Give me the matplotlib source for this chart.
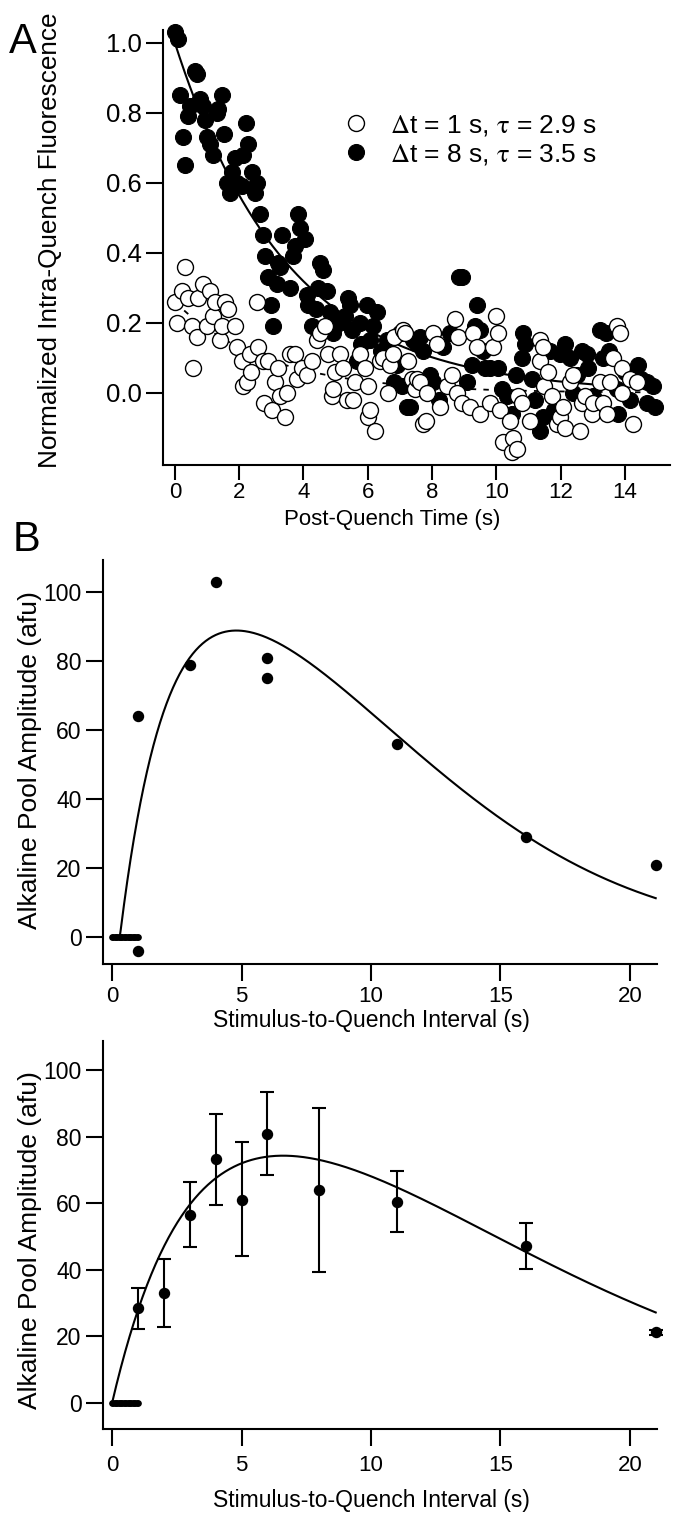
import numpy as np
import matplotlib
matplotlib.use("Agg")
import matplotlib.pyplot as plt

plt.rcParams['font.family'] = ['Liberation Sans', 'DejaVu Sans']
plt.rcParams['mathtext.fontset'] = 'stix'

# ---- panel A: intra-quench fluorescence (t in s, normalized value)
filled_t = [0.0, 0.1, 0.16, 0.25, 0.31, 0.4, 0.47, 0.62, 0.68, 0.78, 0.87, 0.93, 0.99, 1.09, 1.18,
            1.3, 1.34, 1.46, 1.52, 1.62, 1.71, 1.77, 1.87, 1.93, 2.08, 2.12, 2.21, 2.27, 2.4, 2.49,
            2.55, 2.64, 2.74, 2.8, 2.9, 3.0, 3.05, 3.17, 3.2, 3.27, 3.33, 3.58, 3.67, 3.73, 3.83,
            3.89, 4.04, 4.1, 4.14, 4.26, 4.4, 4.45, 4.5, 4.6, 4.72, 4.82, 4.91, 5.1, 5.28, 5.38,
            5.44, 5.5, 5.66, 5.75, 5.8, 5.97, 6.06, 6.16, 6.28, 6.4, 6.6, 6.8, 6.9, 7.0, 7.05,
            7.1, 7.22, 7.3, 7.4, 7.53, 7.62, 7.71, 7.93, 8.03, 8.2, 8.34, 8.55, 8.83, 8.93, 9.08,
            9.24, 9.33, 9.39, 9.49, 9.58, 9.64, 9.8, 10.05, 10.17, 10.33, 10.5, 10.6, 10.8, 10.82,
            10.89, 11.1, 11.2, 11.35, 11.45, 11.66, 11.8, 11.98, 12.13, 12.29, 12.38, 12.5, 12.66,
            12.82, 12.85, 13.0, 13.22, 13.31, 13.4, 13.5, 13.75, 13.78, 14.0, 14.15, 14.4, 14.5,
            14.68, 14.7, 14.87, 14.93]
filled_v = [1.03, 1.01, 0.85, 0.73, 0.65, 0.79, 0.82, 0.92, 0.91, 0.84, 0.82, 0.78, 0.73, 0.71, 0.68,
            0.80, 0.81, 0.85, 0.74, 0.60, 0.57, 0.63, 0.67, 0.60, 0.59, 0.68, 0.77, 0.71, 0.63, 0.57,
            0.60, 0.51, 0.45, 0.39, 0.33, 0.25, 0.19, 0.31, 0.37, 0.36, 0.45, 0.30, 0.39, 0.42, 0.51,
            0.47, 0.44, 0.28, 0.25, 0.19, 0.24, 0.30, 0.37, 0.35, 0.29, 0.23, 0.17, 0.20, 0.22, 0.27,
            0.25, 0.18, 0.09, 0.20, 0.14, 0.25, 0.15, 0.19, 0.23, 0.12, 0.15, 0.03, 0.08, 0.17, 0.02,
            0.17, -0.04, -0.04, 0.15, 0.14, 0.16, 0.12, 0.05, 0.03, -0.02, 0.13, 0.17, 0.33, 0.33, 0.03,
            0.08, 0.19, 0.25, 0.18, 0.12, 0.07, 0.07, 0.07, 0.01, -0.01, -0.06, 0.05, 0.10, 0.17,
            0.14, 0.04, -0.02, -0.11, -0.07, 0.12, -0.05, 0.11, 0.14, 0.10, 0.00, 0.05, 0.12,
            0.11, 0.07, -0.01, 0.18, 0.10, 0.17, 0.12, 0.01, -0.06, 0.06, -0.02, 0.08, 0.04,
            0.03, -0.03, 0.02, -0.04]

open_t = [0.0, 0.06, 0.22, 0.31, 0.4, 0.53, 0.56, 0.68, 0.72, 0.87, 0.99, 1.09, 1.18, 1.24, 1.4,
          1.46, 1.56, 1.65, 1.87, 1.93, 2.08, 2.12, 2.24, 2.33, 2.36, 2.55, 2.58, 2.74, 2.76, 2.89,
          3.02, 3.11, 3.2, 3.27, 3.42, 3.48, 3.58, 3.73, 3.79, 3.95, 4.1, 4.26, 4.42, 4.51, 4.67,
          4.76, 4.88, 4.91, 4.98, 5.13, 5.23, 5.35, 5.54, 5.6, 5.75, 5.91, 6.0, 6.02, 6.07, 6.22,
          6.38, 6.47, 6.63, 6.69, 6.78, 6.8, 7.1, 7.15, 7.25, 7.37, 7.46, 7.53, 7.62, 7.71, 7.8,
          7.84, 8.03, 8.15, 8.24, 8.46, 8.62, 8.7, 8.77, 8.8, 8.93, 9.18, 9.27, 9.39, 9.49, 9.8,
          9.89, 10.0, 10.05, 10.1, 10.2, 10.42, 10.5, 10.51, 10.64, 10.67, 10.8, 11.04, 11.35,
          11.37, 11.45, 11.47, 11.6, 11.72, 11.88, 11.98, 12.07, 12.13, 12.29, 12.38, 12.6, 12.66,
          12.75, 12.97, 13.0, 13.22, 13.31, 13.44, 13.53, 13.62, 13.75, 13.84, 13.9, 13.92, 14.15,
          14.25, 14.37]
open_v = [0.26, 0.20, 0.29, 0.36, 0.27, 0.19, 0.07, 0.16, 0.27, 0.31, 0.19, 0.29, 0.22, 0.26, 0.15,
          0.19, 0.26, 0.24, 0.19, 0.13, 0.09, 0.02, 0.03, 0.11, 0.06, 0.26, 0.13, 0.09, -0.03, 0.09,
          -0.05, 0.03, 0.07, -0.01, -0.07, 0.00, 0.11, 0.11, 0.04, 0.07, 0.05, 0.09, 0.15, 0.17, 0.19,
          0.11, -0.01, 0.01, 0.06, 0.11, 0.07, -0.02, -0.02, 0.03, 0.11, 0.07, 0.02, -0.07, -0.05, -0.11,
          0.09, 0.10, 0.00, 0.08, 0.11, 0.16, 0.18, 0.17, 0.09, 0.04, 0.01, 0.04, 0.03, -0.09, -0.08,
          0.00, 0.17, 0.14, -0.04, 0.02, 0.05, 0.21, 0.00, 0.16, -0.03, -0.04, 0.17, 0.13, -0.06, -0.03,
          0.13, 0.22, 0.17, -0.05, -0.14, -0.08, -0.17, -0.13, -0.16, -0.01, -0.03, -0.08, 0.15,
          0.09, 0.13, 0.02, 0.06, -0.01, -0.09, -0.07, -0.04, -0.10, 0.03, 0.05, -0.11, -0.03,
          -0.01, -0.06, -0.03, 0.03, -0.03, -0.06, 0.03, 0.10, 0.19, 0.17, 0.07, 0.00, 0.04,
          -0.09, 0.03]

# single-exponential fits (amplitude, tau)
fit_open = (0.26, 2.9)
fit_filled = (1.0, 3.5)

# ---- panel B: alkaline pool amplitude vs stimulus-to-quench interval
b1_x = [1, 1, 3, 4, 6, 6, 11, 16, 21]
b1_y = [64, -4, 79, 103, 81, 75, 56, 29, 21]
b1_zero_x = [0.0, 0.05, 0.1, 0.15, 0.2, 0.25, 0.3, 0.35, 0.4, 0.45, 0.5, 0.55, 0.6, 0.65, 0.7,
             0.75, 0.8, 0.85, 0.9, 0.95, 1.0]

b2_x = [1, 2, 3, 4, 5, 6, 8, 11, 16, 21]
b2_y = [28.5, 33.2, 56.6, 73.4, 61.1, 81.0, 64.1, 60.3, 47.3, 21.3]
b2_lo = [6.3, 10.4, 9.6, 13.8, 17.0, 12.6, 24.6, 9.0, 7.1, 0.8]
b2_hi = [6.1, 10.0, 9.7, 13.6, 17.2, 12.6, 24.6, 9.3, 6.9, 0.8]
b2_zero_x = [0.0, 0.05, 0.1, 0.15, 0.2, 0.25, 0.3, 0.35, 0.4, 0.45, 0.5, 0.55, 0.6, 0.65, 0.7,
             0.75, 0.8, 0.85, 0.9, 0.95, 1.0]

# rise/decay fits: A, t0, tau_rise, tau_decay
fit_b1 = (107.0, 0.3, 1.75, 13.8)
fit_b2 = (92.4, 0.0, 2.77, 19.0)


def exp_fit(t, p):
    return p[0] * np.exp(-t / p[1])


def pool_fit(t, p):
    a, t0, tr, td = p
    s = np.clip(t - t0, 0, None)
    return a * (1 - np.exp(-s / tr)) * np.exp(-(s / td) ** 2)


W, H = 673, 1513
fig = plt.figure(figsize=(W / 100, H / 100), dpi=100)


def px_axes(left, top, right, bottom):
    return fig.add_axes([left / W, 1 - bottom / H, (right - left) / W, (bottom - top) / H])


def style(ax, ysize, xsize, xpad=3, ypad=4, xlen=12.5):
    for s in ['top', 'right']:
        ax.spines[s].set_visible(False)
    for s in ['left', 'bottom']:
        ax.spines[s].set_linewidth(1.5)
    ax.tick_params(direction='out', length=12.5, width=1.5)
    ax.tick_params(axis='y', labelsize=ysize, pad=ypad)
    ax.tick_params(axis='x', labelsize=xsize, pad=xpad, length=xlen)


def ptext(x, y, s, size, rot=0):
    fig.text(x / W, 1 - y / H, s, rotation=rot, ha='center', va='center', fontsize=size)


# ---------------- panel A
axA = px_axes(163, 30, 670, 465)
tt = np.linspace(0, 15, 400)
axA.plot(tt, exp_fit(tt, fit_open), color='black', lw=1.3, ls=(0, (3, 4)), zorder=1)
axA.plot(filled_t, filled_v, 'o', ms=11.5, mfc='black', mec='black', mew=0.8, zorder=2,
         clip_on=False, label=r'$\Delta$t = 8 s, $\mathrm{\tau}$ = 3.5 s')
axA.plot(tt, exp_fit(tt, fit_filled), color='black', lw=1.5, zorder=3)
axA.plot(open_t, open_v, 'o', ms=11.5, mfc='white', mec='black', mew=1.0, zorder=4,
         clip_on=False, label=r'$\Delta$t = 1 s, $\mathrm{\tau}$ = 2.9 s')
axA.set_xlim(-0.37, 15.4)
axA.set_ylim(-0.206, 1.037)
axA.set_xticks(range(0, 15, 2))
axA.set_yticks([0.0, 0.2, 0.4, 0.6, 0.8, 1.0])
axA.set_yticklabels(['0.0', '0.2', '0.4', '0.6', '0.8', '1.0'])
style(axA, 18.5, 16, xpad=1.5, ypad=3, xlen=11)
h, l = axA.get_legend_handles_labels()
axA.legend(h[::-1], l[::-1], loc='upper left', bbox_to_anchor=(345 / W, 1 - 113 / H),
           bbox_transform=fig.transFigure, frameon=False, fontsize=19, handlelength=0.8,
           handletextpad=0.9, labelspacing=0.15, borderpad=0, borderaxespad=0)

ptext(50, 240, 'Normalized Intra-Quench Fluorescence', 18.8, rot=90)
ptext(392, 519, 'Post-Quench Time (s)', 16)
ptext(23, 42, 'A', 30)
ptext(26, 540, 'B', 30)

# ---------------- panel B, individual experiments
axB1 = px_axes(103, 560, 657, 964)
xx = np.linspace(0, 21, 500)
axB1.plot(xx, pool_fit(xx, fit_b1), color='black', lw=1.5)
axB1.plot(b1_x, b1_y, 'o', ms=7.2, color='black', clip_on=False)
axB1.plot(b1_zero_x, np.zeros(len(b1_zero_x)), 'o', ms=3.8, color='black', clip_on=False)
axB1.set_xlim(-0.35, 21.05)
axB1.set_ylim(-7.8, 109.3)
axB1.set_xticks([0, 5, 10, 15, 20])
axB1.set_yticks([0, 20, 40, 60, 80, 100])
style(axB1, 16.5, 16, xpad=3, ypad=3)
ptext(30, 760, 'Alkaline Pool Amplitude (afu)', 19, rot=90)
ptext(371, 1021, 'Stimulus-to-Quench Interval (s)', 16.5)

# ---------------- panel B, mean +/- error
axB2 = px_axes(103, 1041, 657, 1429)
axB2.plot(xx, pool_fit(xx, fit_b2), color='black', lw=1.5)
axB2.errorbar(b2_x, b2_y, yerr=[b2_lo, b2_hi], fmt='o', ms=7.2, color='black',
              elinewidth=1.5, capsize=5, capthick=1.5, clip_on=False)
axB2.plot(b2_zero_x, np.zeros(len(b2_zero_x)), 'o', ms=3.8, color='black', clip_on=False)
axB2.set_xlim(-0.35, 21.05)
axB2.set_ylim(-7.8, 108.8)
axB2.set_xticks([0, 5, 10, 15, 20])
axB2.set_yticks([0, 20, 40, 60, 80, 100])
style(axB2, 16.5, 16, xpad=6, ypad=3)
ptext(30, 1240, 'Alkaline Pool Amplitude (afu)', 19, rot=90)
ptext(371, 1500, 'Stimulus-to-Quench Interval (s)', 16.5)

fig.savefig('out.png', dpi=100)
